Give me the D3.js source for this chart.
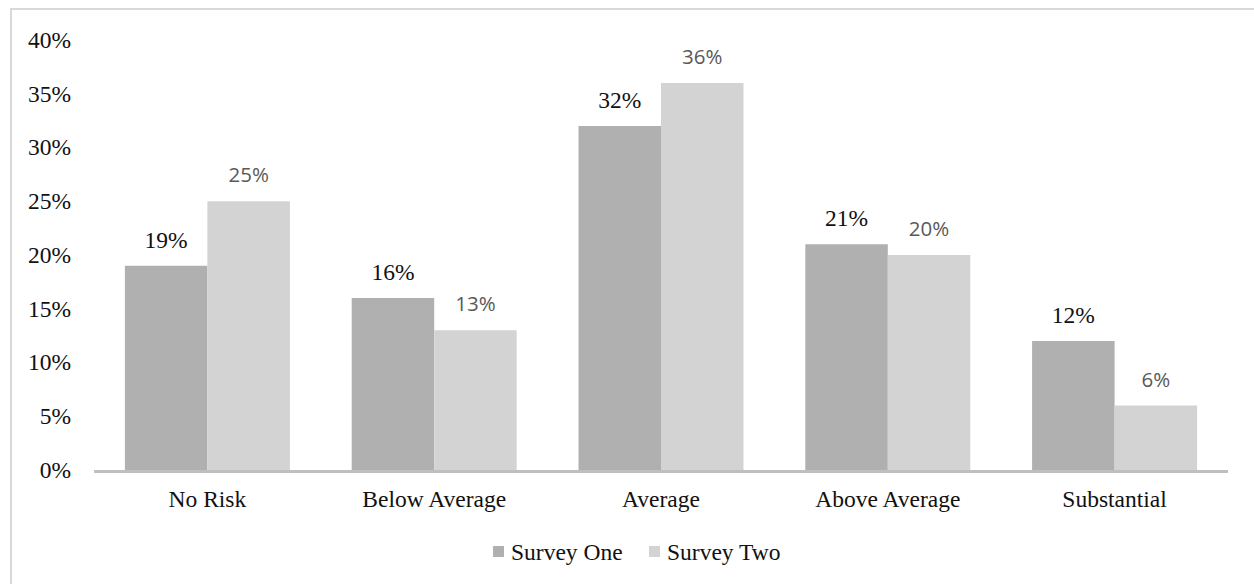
<!DOCTYPE html>
<html>
<head>
<meta charset="utf-8">
<script src="https://cdn.jsdelivr.net/npm/d3@7"></script>
<style>
    body { margin: 0; background: #fff; }
    svg { display: block; }
    .tick-label, .cat-label, .legend-text, .label-one { font-family: "Liberation Serif", "Times New Roman", serif; font-size: 23.5px; fill: #111; }
    .label-two { font-family: "Open Sans", sans-serif; font-size: 20.5px; fill: #595959; }
</style>
</head>
<body>
<div id="chartWrap"></div>
<script>
'use strict'
const categories = ['No Risk', 'Below Average', 'Average', 'Above Average', 'Substantial'];
const seriesNames = ['Survey One', 'Survey Two'];
const surveyOne = [19, 16, 32, 21, 12];
const surveyTwo = [25, 13, 36, 20, 6];
const yTicks = [0, 5, 10, 15, 20, 25, 30, 35, 40];

window.addEventListener('DOMContentLoaded', function() {
    const svgWidth = 1254, svgHeight = 584;
    const plot = { left: 94, right: 1228, top: 40, bottom: 470 };
    const colors = ['#b0b0b0', '#d3d3d3'];

    const data = categories.map((c, i) => ({ cat: c, values: [surveyOne[i], surveyTwo[i]] }));

    const svg = d3.select('#chartWrap').append('svg')
        .attr('width', svgWidth)
        .attr('height', svgHeight);

    // outer frame
    svg.append('rect')
        .attr('x', 11).attr('y', 9)
        .attr('width', 1260).attr('height', 600)
        .attr('fill', 'none')
        .attr('stroke', '#d9d9d9')
        .attr('stroke-width', 2);

    // scales
    const yScale = d3.scaleLinear().domain([0, 40]).range([plot.bottom, plot.top]);
    const xScale0 = d3.scaleBand()
        .domain(categories)
        .range([plot.left, plot.right])
        .paddingInner(0.2725)
        .paddingOuter(0.13625);
    const xScale1 = d3.scaleBand()
        .domain(seriesNames)
        .range([0, xScale0.bandwidth()]);

    // y tick labels
    svg.append('g').selectAll('text')
        .data(yTicks)
        .join('text')
        .attr('class', 'tick-label')
        .attr('x', 71)
        .attr('y', d => yScale(d))
        .attr('dy', '0.34em')
        .attr('text-anchor', 'end')
        .text(d => d + '%');

    // bars
    const groups = svg.append('g').selectAll('g')
        .data(data)
        .join('g')
        .attr('transform', d => `translate(${xScale0(d.cat)},0)`);

    groups.selectAll('rect')
        .data(d => d.values.map((v, i) => ({ key: seriesNames[i], value: v, i })))
        .join('rect')
        .attr('x', d => xScale1(d.key))
        .attr('y', d => yScale(d.value))
        .attr('width', xScale1.bandwidth())
        .attr('height', d => yScale(0) - yScale(d.value))
        .attr('fill', d => colors[d.i]);

    groups.selectAll('text')
        .data(d => d.values.map((v, i) => ({ key: seriesNames[i], value: v, i })))
        .join('text')
        .attr('class', d => d.i === 0 ? 'label-one' : 'label-two')
        .attr('x', d => xScale1(d.key) + xScale1.bandwidth() / 2)
        .attr('y', d => yScale(d.value) - (d.i === 0 ? 18 : 19))
        .attr('text-anchor', 'middle')
        .text(d => d.value + '%');

    // x axis line
    svg.append('line')
        .attr('x1', plot.left).attr('x2', plot.right)
        .attr('y1', plot.bottom + 1.5).attr('y2', plot.bottom + 1.5)
        .attr('stroke', '#bfbfbf')
        .attr('stroke-width', 3);

    // category labels
    svg.append('g').selectAll('text')
        .data(categories)
        .join('text')
        .attr('class', 'cat-label')
        .attr('x', d => xScale0(d) + xScale0.bandwidth() / 2)
        .attr('y', 507)
        .attr('text-anchor', 'middle')
        .text(d => d);

    // legend
    const legendX = [493, 649];
    const legend = svg.append('g').selectAll('g')
        .data(seriesNames)
        .join('g')
        .attr('transform', (d, i) => `translate(${legendX[i]}, 546)`);
    legend.append('rect')
        .attr('width', 11).attr('height', 11)
        .attr('fill', (d, i) => colors[i]);
    legend.append('text')
        .attr('class', 'legend-text')
        .attr('x', 18)
        .attr('y', 14)
        .text(d => d);
});
</script>
</body>
</html>
